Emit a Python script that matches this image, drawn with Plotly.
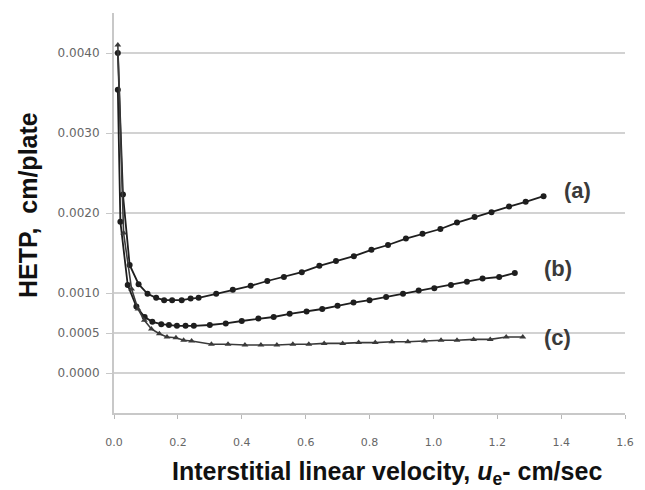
import plotly.graph_objects as go

# Curve (a)
a_x = [0.012, 0.028, 0.049, 0.077, 0.105, 0.132, 0.157, 0.182, 0.212, 0.240, 0.265,
       0.320, 0.372, 0.428, 0.480, 0.532, 0.588, 0.643, 0.695, 0.751, 0.806, 0.858,
       0.914, 0.966, 1.022, 1.074, 1.129, 1.182, 1.237, 1.289, 1.345]
a_y = [0.00400, 0.00223, 0.00135, 0.00111, 0.00099, 0.00094, 0.00091, 0.00091, 0.00091,
       0.00093, 0.00094, 0.00099, 0.00104, 0.00109, 0.00115, 0.00120, 0.00126, 0.00134,
       0.00140, 0.00146, 0.00154, 0.00160, 0.00168, 0.00174, 0.00180, 0.00188, 0.00195,
       0.00201, 0.00208, 0.00214, 0.00221]

# Curve (b)
b_x = [0.012, 0.020, 0.043, 0.070, 0.096, 0.120, 0.148, 0.172, 0.197, 0.224, 0.250,
       0.300, 0.350, 0.400, 0.452, 0.500, 0.550, 0.603, 0.652, 0.700, 0.750, 0.800,
       0.852, 0.905, 0.954, 1.003, 1.055, 1.105, 1.154, 1.206, 1.255]
b_y = [0.00354, 0.00189, 0.00110, 0.00083, 0.00070, 0.00064, 0.00061, 0.00060, 0.00059,
       0.00059, 0.00059, 0.00060, 0.00062, 0.00065, 0.00068, 0.00070, 0.00074, 0.00077,
       0.00080, 0.00084, 0.00088, 0.00091, 0.00095, 0.00099, 0.00103, 0.00106, 0.00110,
       0.00114, 0.00118, 0.00120, 0.00125]

# Curve (c)
c_x = [0.012, 0.030, 0.055, 0.075, 0.095, 0.117, 0.142, 0.166, 0.194, 0.218, 0.243,
       0.305, 0.357, 0.410, 0.460, 0.510, 0.560, 0.610, 0.658, 0.716, 0.766, 0.818,
       0.870, 0.920, 0.972, 1.024, 1.074, 1.126, 1.178, 1.228, 1.280]
c_y = [0.00410, 0.00175, 0.00105, 0.00080, 0.00066, 0.00055, 0.00049, 0.00045, 0.00044,
       0.00041, 0.00040, 0.00036, 0.00036, 0.00035, 0.00035, 0.00035, 0.00036, 0.00036,
       0.00037, 0.00037, 0.00038, 0.00038, 0.00039, 0.00039, 0.00040, 0.00041, 0.00041,
       0.00042, 0.00042, 0.00045, 0.00045]

y_ticks = [0.0, 0.0005, 0.0010, 0.0020, 0.0030, 0.0040]
y_tick_text = ["0.0000", "0.0005", "0.0010", "0.0020", "0.0030", "0.0040"]
x_ticks = [0.0, 0.2, 0.4, 0.6, 0.8, 1.0, 1.2, 1.4, 1.6]
x_tick_text = ["0.0", "0.2", "0.4", "0.6", "0.8", "1.0", "1.2", "1.4", "1.6"]

labels = ["(a)", "(b)", "(c)"]

dark = "#1e1e1e"
fig = go.Figure()
fig.add_trace(go.Scatter(x=a_x, y=a_y, mode="lines+markers",
                         line=dict(color=dark, width=1.8),
                         marker=dict(symbol="circle", size=6, color=dark)))
fig.add_trace(go.Scatter(x=b_x, y=b_y, mode="lines+markers",
                         line=dict(color=dark, width=1.8),
                         marker=dict(symbol="circle", size=6, color=dark)))
fig.add_trace(go.Scatter(x=c_x, y=c_y, mode="lines+markers",
                         line=dict(color="#3a3a3a", width=1.6),
                         marker=dict(symbol="triangle-up", size=6, color="#3a3a3a")))

ends = [(a_x[-1], a_y[-1]), (b_x[-1], b_y[-1]), (c_x[-1], c_y[-1])]
shifts = [(34, 6), (43, 5), (35, 0)]
for lab, (lx, ly), (sx, sy) in zip(labels, ends, shifts):
    fig.add_annotation(x=lx, y=ly, text="<b>" + lab + "</b>", showarrow=False,
                       xanchor="center", yanchor="middle", xshift=sx, yshift=sy,
                       font=dict(family="Liberation Sans", size=22, color="#3a3a3a"))

fig.add_annotation(xref="paper", yref="paper", x=0.535, y=-0.150, xanchor="center", yanchor="middle",
                   text="<b>Interstitial linear velocity, <i>u</i><sub>e</sub>- cm/sec</b>",
                   showarrow=False,
                   font=dict(family="Liberation Sans", size=25, color="#111111"))
fig.add_annotation(xref="paper", yref="paper", x=0, y=0.52, xanchor="center", yanchor="middle",
                   text="<b>HETP,  cm/plate</b>", textangle=-90, showarrow=False, xshift=-86,
                   font=dict(family="Liberation Sans", size=25, color="#111111"))

fig.update_layout(
    width=645, height=490,
    margin=dict(l=114, r=11, t=13, b=77),
    paper_bgcolor="white", plot_bgcolor="white",
    showlegend=False,
    xaxis=dict(range=[0, 1.6], tickvals=x_ticks, ticktext=x_tick_text,
               showgrid=False, zeroline=False, showline=True, linecolor="#c8c8c8", linewidth=2,
               ticks="outside", ticklen=4, tickcolor="#b8b8b8", ticklabelstandoff=14,
               tickfont=dict(family="DejaVu Sans", size=11, color="#666666")),
    yaxis=dict(range=[-0.0005, 0.0045], tickvals=y_ticks, ticktext=y_tick_text,
               showgrid=True, gridcolor="#d2d2d2", gridwidth=2, zeroline=False,
               showline=True, linecolor="#c8c8c8", linewidth=2,
               ticks="outside", ticklen=6, tickcolor="#c8c8c8", ticklabelstandoff=4,
               tickfont=dict(family="DejaVu Sans", size=12, color="#666666")),
)

fig.write_html("out.html", post_script="document.body.style.margin='0';",
               config={"displayModeBar": False})
